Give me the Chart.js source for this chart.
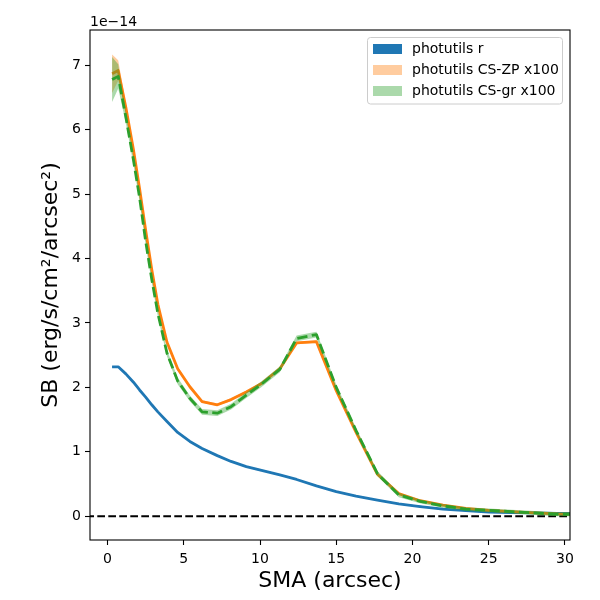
<!DOCTYPE html>
<html>
<head>
    <title>SB profile</title>
    <script src="https://cdn.jsdelivr.net/npm/chart.js"></script>
    <style>
        body {
            margin: 0;
            background: white;
        }
        #wrap {
            width: 600px;
            height: 600px;
        }
    </style>
</head>
<body>
    <div id="wrap"><canvas id="sbChart" width="600" height="600"></canvas></div>

    <script>
        // semi-major axis (arcsec)
        const sma = [0.3, 0.7, 1.2, 1.7, 2.1, 2.5, 2.9, 3.3, 3.9, 4.6, 5.4, 6.2, 7.2, 8.1, 9.1, 10.1,
                     11.3, 12.4, 13.7, 15.0, 16.3, 17.7, 19.1, 20.5, 22.0, 23.5, 25.0, 26.5, 28.0, 29.5, 31.0];

        // surface brightness, units of 1e-14 erg/s/cm2/arcsec2
        const sbR  = [2.32, 2.32, 2.21, 2.08, 1.96, 1.85, 1.73, 1.62, 1.47, 1.30, 1.16, 1.05, 0.94, 0.85, 0.77, 0.71,
                      0.64, 0.57, 0.47, 0.38, 0.31, 0.25, 0.19, 0.15, 0.11, 0.085, 0.065, 0.055, 0.05, 0.045, 0.04];
        const sbZP = [6.87, 6.92, 6.35, 5.69, 5.09, 4.44, 3.83, 3.29, 2.70, 2.29, 2.01, 1.78, 1.73, 1.81, 1.93, 2.06,
                      2.29, 2.69, 2.71, 1.95, 1.30, 0.65, 0.35, 0.24, 0.17, 0.12, 0.09, 0.07, 0.05, 0.035, 0.03];
        const sbGR = [6.78, 6.83, 6.20, 5.53, 4.95, 4.27, 3.68, 3.15, 2.53, 2.10, 1.83, 1.62, 1.60, 1.70, 1.88, 2.05,
                      2.28, 2.76, 2.82, 2.00, 1.33, 0.66, 0.33, 0.23, 0.16, 0.11, 0.09, 0.07, 0.05, 0.03, 0.03];

        // band half-widths
        const errR  = [0.01, 0.01, 0.01, 0.01, 0.01, 0.01, 0.01, 0.01, 0.01, 0.01, 0.01, 0.01, 0.01, 0.01, 0.01, 0.01,
                       0.01, 0.01, 0.01, 0.01, 0.01, 0.01, 0.01, 0.01, 0.01, 0.01, 0.01, 0.01, 0.01, 0.01, 0.01];
        const errZP = [0.30, 0.16, 0.06, 0.04, 0.04, 0.04, 0.03, 0.03, 0.03, 0.03, 0.02, 0.02, 0.02, 0.02, 0.02, 0.02,
                       0.02, 0.02, 0.02, 0.02, 0.02, 0.02, 0.015, 0.015, 0.01, 0.01, 0.01, 0.01, 0.01, 0.01, 0.01];
        const errGR = [0.35, 0.19, 0.09, 0.07, 0.06, 0.06, 0.05, 0.05, 0.05, 0.05, 0.045, 0.045, 0.045, 0.045, 0.045, 0.045,
                       0.045, 0.045, 0.045, 0.045, 0.04, 0.04, 0.035, 0.03, 0.03, 0.03, 0.03, 0.03, 0.03, 0.03, 0.03];

        const xTicks = [0, 5, 10, 15, 20, 25, 30];
        const yTicks = [0, 1, 2, 3, 4, 5, 6, 7];
        const legendLabels = ["photutils r", "photutils CS-ZP x100", "photutils CS-gr x100"];

        const BLUE = "#1f77b4", ORANGE = "#ff7f0e", GREEN = "#2ca02c";
        const FONT = "DejaVu Sans";

        function pts(vals) {
            return sma.map((x, i) => ({x: x, y: vals[i]}));
        }
        function band(vals, err, sign) {
            return sma.map((x, i) => ({x: x, y: vals[i] + sign * err[i]}));
        }

        function lineSet(vals, color, order, dash) {
            return {
                data: pts(vals), borderColor: color, borderWidth: 2.8, borderDash: dash || [],
                borderJoinStyle: "round", pointRadius: 0, fill: false, order: order, clip: 0
            };
        }
        function bandSet(data, fillTo, color, order) {
            return {
                data: data, borderWidth: 0, borderColor: "rgba(0,0,0,0)", pointRadius: 0,
                fill: fillTo === null ? false : {target: fillTo}, backgroundColor: color, order: order, clip: 0
            };
        }

        const datasets = [
            lineSet(sbGR, GREEN, 1, [10.3, 4.4]),                                  // 0
            bandSet(band(sbGR, errGR, 1), 2, "rgba(44,160,44,0.4)", 2),            // 1
            bandSet(band(sbGR, errGR, -1), null, "rgba(0,0,0,0)", 2),             // 2
            lineSet(sbZP, ORANGE, 3),                                              // 3
            bandSet(band(sbZP, errZP, 1), 5, "rgba(255,127,14,0.4)", 4),           // 4
            bandSet(band(sbZP, errZP, -1), null, "rgba(0,0,0,0)", 4),             // 5
            lineSet(sbR, BLUE, 5),                                                 // 6
            bandSet(band(sbR, errR, 1), 8, BLUE, 6),                               // 7
            bandSet(band(sbR, errR, -1), null, "rgba(0,0,0,0)", 6),               // 8
            {   // zero line
                data: [{x: -5, y: 0}, {x: 40, y: 0}], borderColor: "black", borderWidth: 2.08,
                borderDash: [7.7, 3.3], pointRadius: 0, fill: false, order: 7, clip: 0
            }
        ];

        const framePlugin = {
            id: "frame",
            afterDatasetsDraw(chart) {
                const a = chart.chartArea, ctx = chart.ctx;
                ctx.save();
                ctx.strokeStyle = "black";
                ctx.lineWidth = 1.1;
                ctx.strokeRect(a.left, a.top, a.right - a.left, a.bottom - a.top);
                ctx.restore();
            },
            afterDraw(chart) {
                const a = chart.chartArea, ctx = chart.ctx;
                ctx.save();
                // offset text
                ctx.fillStyle = "black";
                ctx.font = "14px '" + FONT + "'";
                ctx.textAlign = "left";
                ctx.textBaseline = "alphabetic";
                ctx.fillText("1e\u221214", a.left, a.top - 4);

                // legend
                const bx = 367.5, by = 37.5, bw = 195, bh = 66.5, r = 3;
                ctx.beginPath();
                ctx.moveTo(bx + r, by);
                ctx.arcTo(bx + bw, by, bx + bw, by + bh, r);
                ctx.arcTo(bx + bw, by + bh, bx, by + bh, r);
                ctx.arcTo(bx, by + bh, bx, by, r);
                ctx.arcTo(bx, by, bx + bw, by, r);
                ctx.closePath();
                ctx.fillStyle = "rgba(255,255,255,0.8)";
                ctx.fill();
                ctx.strokeStyle = "#cccccc";
                ctx.lineWidth = 1;
                ctx.stroke();

                const patchColors = [BLUE, "rgba(255,127,14,0.4)", "rgba(44,160,44,0.4)"];
                legendLabels.forEach((lab, i) => {
                    const cy = 49 + i * 21;
                    ctx.fillStyle = patchColors[i];
                    ctx.fillRect(373, cy - 5, 29, 10);
                    ctx.fillStyle = "black";
                    ctx.textBaseline = "middle";
                    ctx.fillText(lab, 412, cy);
                });
                ctx.restore();
            }
        };

        const tickGrid = {
            display: true, drawOnChartArea: false, drawTicks: true,
            tickLength: 5, tickWidth: 1.1, tickColor: "black"
        };

        new Chart(document.getElementById("sbChart").getContext("2d"), {
            type: "line",
            data: {datasets: datasets},
            options: {
                responsive: false,
                animation: false,
                devicePixelRatio: 1,
                layout: {padding: {top: 30, right: 30, left: 0, bottom: 0}},
                plugins: {legend: {display: false}, tooltip: {enabled: false}},
                scales: {
                    x: {
                        type: "linear", min: -1.15, max: 30.33,
                        grid: tickGrid, border: {display: false},
                        afterBuildTicks: s => { s.ticks = xTicks.map(v => ({value: v})); },
                        afterFit: s => { s.height = 60; },
                        ticks: {
                            color: "black", padding: 6, maxRotation: 0,
                            font: {family: FONT, size: 14},
                            callback: v => String(v)
                        },
                        title: {
                            display: true, text: "SMA (arcsec)", color: "black",
                            font: {family: FONT, size: 22}, padding: {top: 0, bottom: 6}
                        }
                    },
                    y: {
                        type: "linear", min: -0.37, max: 7.55,
                        grid: tickGrid, border: {display: false},
                        afterBuildTicks: s => { s.ticks = yTicks.map(v => ({value: v})); },
                        afterFit: s => { s.width = 90; },
                        ticks: {
                            color: "black", padding: 4,
                            font: {family: FONT, size: 14},
                            callback: v => String(v)
                        },
                        title: {
                            display: true, text: "SB (erg/s/cm\u00b2/arcsec\u00b2)", color: "black",
                            font: {family: FONT, size: 22}, padding: {top: 38, bottom: 0}
                        }
                    }
                }
            },
            plugins: [framePlugin]
        });
    </script>
</body>
</html>
